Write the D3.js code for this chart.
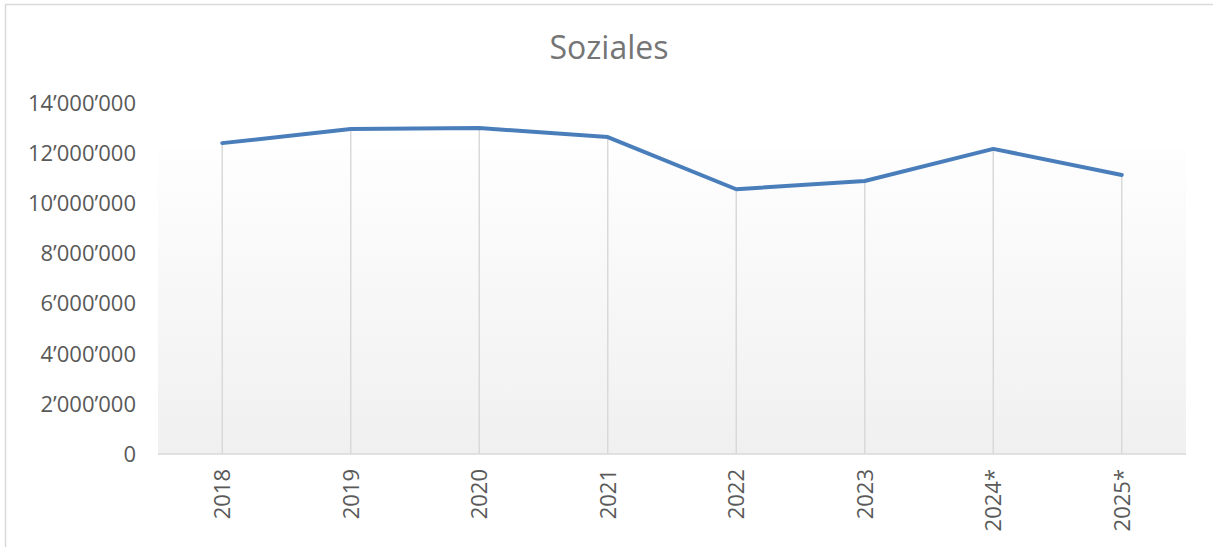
<!DOCTYPE html>
<html>
<head>
<meta charset="utf-8">
<script src="https://cdn.jsdelivr.net/npm/d3@7"></script>
<style>
  body { margin: 0; background: #fff; }
  text { font-family: "Open Sans", "Liberation Sans", sans-serif; }
</style>
</head>
<body>
<div id="chart"></div>
<script>
var width = 1213,
    height = 547;

// categories and values
var years = ["2018", "2019", "2020", "2021", "2022", "2023", "2024*", "2025*"];
var values = [12400000, 12960000, 13000000, 12640000, 10560000, 10890000, 12170000, 11130000];
var yTicks = [0, 2000000, 4000000, 6000000, 8000000, 10000000, 12000000, 14000000];

var plotLeft = 158, plotRight = 1186, plotTop = 103, plotBottom = 454;

var svg = d3.select("#chart").append("svg")
    .attr("width", width)
    .attr("height", height);

// outer frame
svg.append("rect")
    .attr("x", 5.5).attr("y", 4.5)
    .attr("width", 1212).attr("height", 546)
    .attr("fill", "none")
    .attr("stroke", "#d9d9d9")
    .attr("stroke-width", 1.5);

var x = d3.scalePoint()
    .domain(years)
    .range([plotLeft, plotRight])
    .padding(0.5);

var y = d3.scaleLinear()
    .domain([0, 14000000])
    .range([plotBottom, plotTop]);

// plot area gradient
var grad = svg.append("defs").append("linearGradient")
    .attr("id", "bg")
    .attr("x1", 0).attr("y1", 0).attr("x2", 0).attr("y2", 1);
grad.append("stop").attr("offset", "0%").attr("stop-color", "#fefefe");
grad.append("stop").attr("offset", "100%").attr("stop-color", "#f0f0f0");

svg.append("rect")
    .attr("x", plotLeft).attr("y", y(12000000) - 5)
    .attr("width", plotRight - plotLeft)
    .attr("height", plotBottom - y(12000000) + 5)
    .attr("fill", "url(#bg)");

// title
svg.append("text")
    .attr("x", 609).attr("y", 59)
    .attr("text-anchor", "middle")
    .attr("fill", "#757575")
    .style("font-size", "32px")
    .text("Soziales");

var fmt = function(d) {
    return d3.format(",")(d).replace(/,/g, "\u2019");
};

// y axis labels
svg.selectAll(".ylab")
    .data(yTicks)
    .enter().append("text")
    .attr("class", "ylab")
    .attr("x", 136)
    .attr("y", function(d) { return y(d); })
    .attr("dy", "0.36em")
    .attr("text-anchor", "end")
    .attr("fill", "#595959")
    .style("font-size", "22px")
    .text(fmt);

// drop lines
svg.selectAll(".drop")
    .data(values)
    .enter().append("line")
    .attr("class", "drop")
    .attr("x1", function(d, i) { return x(years[i]); })
    .attr("x2", function(d, i) { return x(years[i]); })
    .attr("y1", function(d) { return y(d); })
    .attr("y2", plotBottom)
    .attr("stroke", "#d9d9d9")
    .attr("stroke-width", 1.5);

// x axis line
svg.append("line")
    .attr("x1", plotLeft).attr("x2", plotRight)
    .attr("y1", plotBottom).attr("y2", plotBottom)
    .attr("stroke", "#d9d9d9")
    .attr("stroke-width", 1.5);

// x labels (rotated)
svg.selectAll(".xlab")
    .data(years)
    .enter().append("text")
    .attr("class", "xlab")
    .attr("transform", function(d) { return "translate(" + x(d) + "," + 469 + ") rotate(-90)"; })
    .attr("dy", "0.36em")
    .attr("text-anchor", "end")
    .attr("fill", "#595959")
    .style("font-size", "22px")
    .text(function(d) { return d; });

// the line
var line = d3.line()
    .x(function(d, i) { return x(years[i]); })
    .y(function(d) { return y(d); });

svg.append("path")
    .datum(values)
    .attr("d", line)
    .attr("fill", "none")
    .attr("stroke", "#4a7ebb")
    .attr("stroke-width", 4)
    .attr("stroke-linecap", "round")
    .attr("stroke-linejoin", "round");
</script>
</body>
</html>
